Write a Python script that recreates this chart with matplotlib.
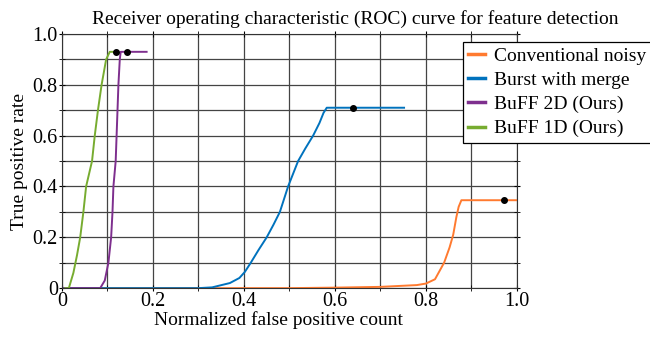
import matplotlib
matplotlib.use("Agg")
import matplotlib.pyplot as plt
from matplotlib.ticker import FuncFormatter, MultipleLocator

plt.rcParams['font.family'] = ['Liberation Serif', 'DejaVu Serif']

# ROC curves
conv_x = [0.0, 0.3, 0.5, 0.6, 0.7, 0.78, 0.80, 0.82, 0.84, 0.852, 0.86, 0.867, 0.872, 0.878, 1.0]
conv_y = [0.0, 0.0, 0.0, 0.002, 0.005, 0.012, 0.018, 0.035, 0.10, 0.16, 0.21, 0.28, 0.32, 0.346, 0.346]
conv_op = (0.971, 0.346)

burst_x = [0.0, 0.30, 0.33, 0.369, 0.39, 0.402, 0.415, 0.432, 0.45, 0.465, 0.479, 0.497,
           0.508, 0.519, 0.535, 0.552, 0.566, 0.575, 0.582, 0.752]
burst_y = [0.0, 0.0, 0.003, 0.02, 0.04, 0.064, 0.10, 0.15, 0.20, 0.25, 0.30, 0.40,
           0.45, 0.50, 0.55, 0.60, 0.65, 0.69, 0.71, 0.71]
burst_op = (0.64, 0.71)

buff2d_x = [0.0, 0.084, 0.094, 0.102, 0.108, 0.111, 0.113, 0.118, 0.12, 0.124, 0.127, 0.129, 0.186]
buff2d_y = [0.0, 0.0, 0.03, 0.10, 0.20, 0.30, 0.40, 0.50, 0.60, 0.80, 0.90, 0.93, 0.93]
buff2d_op = (0.142, 0.93)

buff1d_x = [0.007, 0.015, 0.025, 0.033, 0.04, 0.047, 0.053, 0.066, 0.072, 0.079, 0.087,
            0.097, 0.105, 0.118]
buff1d_y = [0.0, 0.0, 0.06, 0.13, 0.20, 0.30, 0.40, 0.50, 0.60, 0.70, 0.80,
            0.90, 0.93, 0.93]
buff1d_op = (0.118, 0.93)

fig = plt.figure(figsize=(6.5, 3.37), dpi=100)
ax = fig.add_axes([0.0954, 0.145, 0.6998, 0.754])

ax.set_axisbelow(True)

l1, = ax.plot(conv_x, conv_y, color='#FF7A2F', lw=1.4, label='Conventional noisy')
l2, = ax.plot(burst_x, burst_y, color='#0072BD', lw=1.4, label='Burst with merge')
l3, = ax.plot(buff2d_x, buff2d_y, color='#7E2F8E', lw=1.4, label='BuFF 2D (Ours)')
l4, = ax.plot(buff1d_x, buff1d_y, color='#77AC30', lw=1.4, label='BuFF 1D (Ours)')

for px, py in [conv_op, burst_op, buff2d_op, buff1d_op]:
    ax.plot(px, py, 'o', color='black', ms=4, zorder=5)

ax.set_xlim(0, 1)
ax.set_ylim(0, 1)
ax.xaxis.set_major_locator(MultipleLocator(0.2))
ax.xaxis.set_minor_locator(MultipleLocator(0.1))
ax.yaxis.set_major_locator(MultipleLocator(0.2))
ax.yaxis.set_minor_locator(MultipleLocator(0.1))
ax.grid(True, which='both', color='#444444', linewidth=0.9)
fmt = FuncFormatter(lambda v, p: '0' if abs(v) < 1e-9 else f'{v:.1f}')
ax.xaxis.set_major_formatter(fmt)
ax.yaxis.set_major_formatter(fmt)
ax.tick_params(which='both', direction='inout', length=4, labelsize=14.5, pad=1,
               top=True, right=True)
for s in ax.spines.values():
    s.set_color('#333333')

ax.set_xlabel('Normalized false positive count', fontsize=14, labelpad=0, x=0.476)
ax.set_ylabel('True positive rate', fontsize=14, labelpad=3)
# title is centred over axes + legend
ax.set_title('Receiver operating characteristic (ROC) curve for feature detection',
             fontsize=14, pad=7, x=0.644)

leg = fig.legend(handles=[l1, l2, l3, l4], loc='upper left',
                 bbox_to_anchor=(0.712, 0.875), fontsize=14, frameon=True,
                 fancybox=False, edgecolor='black', framealpha=1,
                 handlelength=0.85, handletextpad=0.5, borderpad=0.28,
                 labelspacing=0.33, borderaxespad=0)
leg.get_frame().set_linewidth(0.9)
for h in leg.legend_handles:
    h.set_linewidth(2.5)

fig.savefig('out.png', dpi=100)
